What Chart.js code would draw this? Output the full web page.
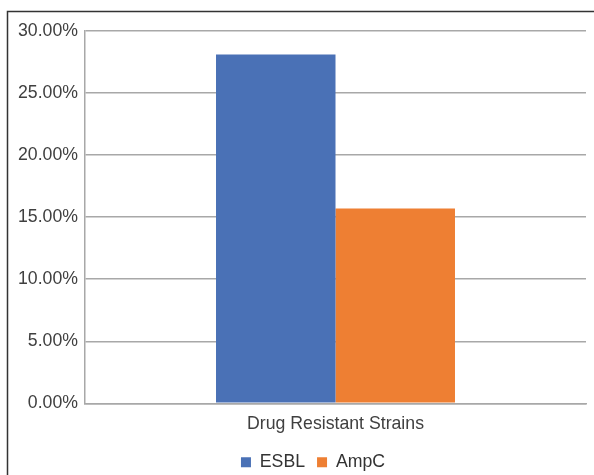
<!DOCTYPE html>
<html>
<head>
<meta charset="utf-8">
<script src="https://cdn.jsdelivr.net/npm/chart.js@4.4.1/dist/chart.umd.min.js"></script>
<style>
  html, body { margin: 0; padding: 0; background: #ffffff; overflow: hidden; }
  #wrap { position: relative; width: 594px; height: 475px; overflow: hidden; }
  canvas { display: block; }
</style>
</head>
<body>
<div id="wrap"><canvas id="chart" width="594" height="490"></canvas></div>
<script>
// Share of resistant isolates, in percent
const categories = ['Drug Resistant Strains'];
const seriesNames = ['ESBL', 'AmpC'];
const esblValues = [28.1];
const ampcValues = [15.7];
const yTicks = [0, 5, 10, 15, 20, 25, 30];

const FONT = 'Liberation Sans, Arial, sans-serif';
const FONT_SIZE = 17.7;

// Thin dark frame around the whole figure
const framePlugin = {
  id: 'frame',
  afterDraw(chart) {
    const ctx = chart.ctx;
    ctx.save();
    ctx.strokeStyle = '#333333';
    ctx.lineWidth = 1.5;
    ctx.strokeRect(7.5, 11.5, 700, 700);
    ctx.restore();
  }
};

// Centre the legend under the plot rather than the whole canvas
const legendShift = {
  id: 'legendShift',
  afterLayout(chart) {
    const lg = chart.legend;
    if (lg) { lg.left += 20; lg.right += 20; }
  }
};

new Chart(document.getElementById('chart'), {
  type: 'bar',
  data: {
    labels: categories,
    datasets: [
      { label: seriesNames[0], data: esblValues, backgroundColor: '#4a71b6', borderWidth: 0 },
      { label: seriesNames[1], data: ampcValues, backgroundColor: '#ee7f33', borderWidth: 0 }
    ]
  },
  options: {
    responsive: false,
    animation: false,
    devicePixelRatio: 1,
    layout: { padding: { left: 0, right: 8, top: 31, bottom: 9 } },
    datasets: { bar: { categoryPercentage: 0.477, barPercentage: 1.0 } },
    scales: {
      x: {
        grid: { display: false, drawTicks: false },
        border: { display: true, color: '#a8a8a8', width: 1.5 },
        ticks: { color: '#404040', padding: 10, font: { family: FONT, size: FONT_SIZE } },
        afterFit(scale) { scale.height = 38; }
      },
      y: {
        min: 0,
        max: 30,
        afterBuildTicks(scale) { scale.ticks = yTicks.map(v => ({ value: v })); },
        grid: { color: '#a8a8a8', lineWidth: 1.5, drawTicks: false },
        border: { display: true, color: '#a8a8a8', width: 1.5 },
        ticks: {
          color: '#404040',
          padding: 7,
          font: { family: FONT, size: FONT_SIZE },
          callback: v => v.toFixed(2) + '%'
        },
        afterFit(scale) { scale.width = 85; }
      }
    },
    plugins: {
      legend: {
        position: 'bottom',
        labels: {
          color: '#333333',
          font: { family: FONT, size: FONT_SIZE },
          boxWidth: 10,
          boxHeight: 10,
          padding: 12
        }
      },
      tooltip: { enabled: false }
    }
  },
  plugins: [framePlugin, legendShift]
});
</script>
</body>
</html>
